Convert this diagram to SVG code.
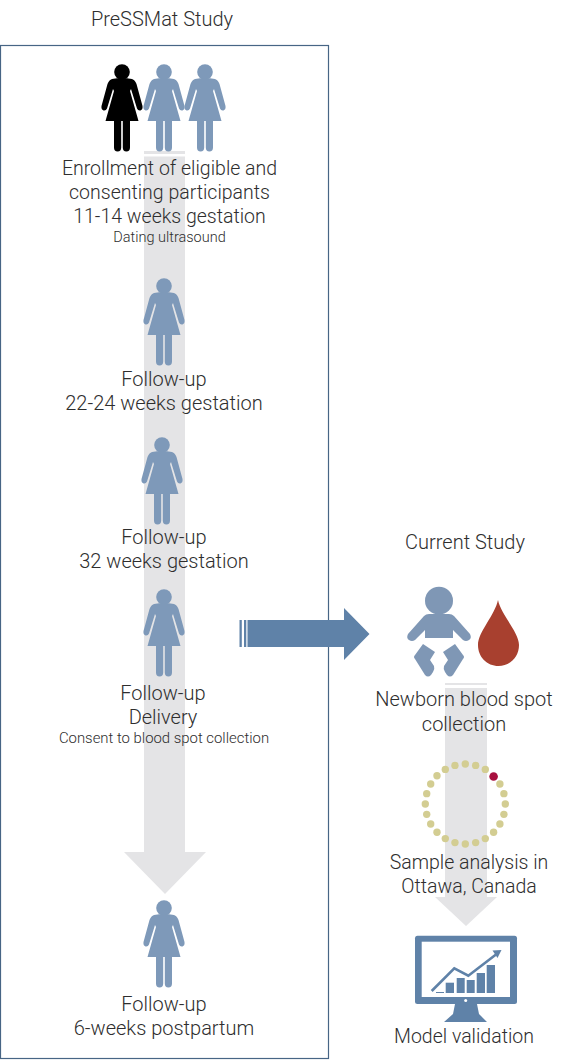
<svg xmlns="http://www.w3.org/2000/svg" width="572" height="1060" viewBox="0 0 572 1060">
<style>
.t{font-family:"Roboto","Liberation Sans",Arial,sans-serif;font-weight:300;font-size:20px;fill:#2e2e2e;text-anchor:middle}
.e{font-size:19.500px}
.s{font-size:14.500px;fill:#2e2e2e}
.c{font-size:14.900px;fill:#2e2e2e}
.p{fill:#7e99b9}
.g{fill:#e4e4e6}
.b{fill:#5f82a8}
.d{fill:#d3cd92}
</style>
<defs>
<g id="person">
<circle cx="0" cy="8" r="7.800"/>
<path d="M-10 15Q0 13 10 15Q13 16 14.500 20L20.500 42Q21 45.500 18.500 46.500Q16 47 15 44.500L9 25L8 27L16.500 57H-16.500L-8 27L-9 25L-15 44.500Q-16 47 -18.500 46.500Q-21 45.500 -20.500 42L-14.500 20Q-13 16 -10 15Z"/>
<path d="M-8 57H-0.800V83.500Q-0.800 87.500 -4.400 87.500Q-8 87.500 -8 83.500ZM0.800 57H8V83.500Q8 87.500 4.400 87.500Q0.800 87.500 0.800 83.500Z"/>
</g>
</defs>
<g id="box"><rect x="0.500" y="45.500" width="328" height="1013" fill="none" stroke="#476585" stroke-width="1.200"/></g>
<g id="connectors">
<g id="down-arrow-left" class="g">
<rect x="144" y="151" width="41" height="3"/>
<path d="M144 156.500H185V852H206L165 894L124 852H144Z"/>
</g>
<g id="down-arrow-right" class="g">
<rect x="445" y="683" width="42" height="2"/>
<path d="M445 688H487V897H497L466 926L435 897H445Z"/>
</g>
<g id="cross-arrow" class="b">
<rect x="239.500" y="620" width="2.300" height="27"/>
<rect x="244" y="620" width="2.300" height="27"/>
<path d="M247.500 620H344V608L369.500 634L344 660V647H247.500Z"/>
</g>
</g>
<g id="title-left"><text class="t" x="162" y="26">PreSSMat Study</text></g>
<g id="title-right"><text class="t" x="465" y="549">Current Study</text></g>
<g id="enrollment">
<use href="#person" x="122" y="64" fill="#000"/>
<use href="#person" x="164" y="64" class="p"/>
<use href="#person" x="205" y="64" class="p"/>
<text class="t e" x="169.500" y="175">Enrollment of eligible and</text>
<text class="t e" x="169.500" y="199">consenting participants</text>
<text class="t e" x="169.500" y="223">11-14 weeks gestation</text>
<text class="t s" x="169.500" y="242">Dating ultrasound</text>
</g>
<g id="followup-22">
<use href="#person" x="164" y="278" class="p"/>
<text class="t" x="164" y="386">Follow-up</text>
<text class="t" x="164" y="410">22-24 weeks gestation</text>
</g>
<g id="followup-32">
<use href="#person" x="162" y="437" class="p"/>
<text class="t" x="164" y="544">Follow-up</text>
<text class="t" x="164" y="568">32 weeks gestation</text>
</g>
<g id="followup-delivery">
<use href="#person" x="164" y="589" class="p"/>
<text class="t" x="163" y="700">Follow-up</text>
<text class="t" x="163" y="724">Delivery</text>
<text class="t c" x="164" y="743">Consent to blood spot collection</text>
</g>
<g id="followup-postpartum">
<use href="#person" x="164" y="900" class="p"/>
<text class="t" x="164" y="1011">Follow-up</text>
<text class="t" x="164" y="1035">6-weeks postpartum</text>
</g>
<g id="newborn">
<g fill="#7f97b5">
<circle cx="439" cy="600.700" r="14"/>
<path d="M429 614H449Q452 614 454 616L470 634Q472 638 469 640Q466 642 463 640L453 630V638H425V630L415 640Q412 642 409 640Q406 638 408 634L424 616Q426 614 429 614Z"/>
<path d="M423 644L435 652L430 660L434 666Q435 669 433 672L431 675Q428 678 425 675L415 659Q413 657 415 655Z"/>
<path d="M455 644L443 652L448 660L444 666Q443 669 445 672L447 675Q450 678 453 675L463 659Q465 657 463 655Z"/>
</g>
<path d="M498 600C501 615 519 632 519 645C519 657 510 666 498.500 666C487 666 478 657 478 645C478 632 495 615 498 600Z" fill="#a8402f"/>
<text class="t" x="464" y="706">Newborn blood spot</text>
<text class="t" x="464" y="731">collection</text>
</g>
<g id="sample-ring">
<g class="d">
<circle cx="465.300" cy="764" r="3.700"/><circle cx="475.650" cy="765.400" r="3.700"/><circle cx="485.300" cy="769.400" r="3.700"/>
<circle cx="499.900" cy="784" r="3.700"/><circle cx="503.900" cy="793.650" r="3.700"/><circle cx="505.300" cy="804" r="3.700"/>
<circle cx="503.900" cy="814.350" r="3.700"/><circle cx="499.900" cy="824" r="3.700"/><circle cx="493.600" cy="832.300" r="3.700"/>
<circle cx="485.300" cy="838.600" r="3.700"/><circle cx="475.650" cy="842.600" r="3.700"/><circle cx="465.300" cy="844" r="3.700"/>
<circle cx="454.950" cy="842.600" r="3.700"/><circle cx="445.300" cy="838.600" r="3.700"/><circle cx="437" cy="832.300" r="3.700"/>
<circle cx="430.700" cy="824" r="3.700"/><circle cx="426.700" cy="814.350" r="3.700"/><circle cx="425.300" cy="804" r="3.700"/>
<circle cx="426.700" cy="793.650" r="3.700"/><circle cx="430.700" cy="784" r="3.700"/><circle cx="437" cy="775.700" r="3.700"/>
<circle cx="445.300" cy="769.400" r="3.700"/><circle cx="454.950" cy="765.400" r="3.700"/>
</g>
<circle cx="493.600" cy="776.500" r="4.300" fill="#a8103f"/>
<text class="t e" x="469" y="869">Sample analysis in</text>
<text class="t e" x="469" y="893">Ottawa, Canada</text>
</g>
<g id="model-validation">
<rect x="415" y="935.700" width="102" height="68.300" rx="2.500" class="b"/>
<rect x="421.700" y="941.700" width="88.300" height="55.300" fill="#fff"/>
<circle cx="465.700" cy="1000.400" r="1.500" fill="#fff"/>
<path d="M455 1004H477L479 1014L487 1022H444L453 1014Z" class="b"/>
<g class="b">
<rect x="445.700" y="982.700" width="8.300" height="10.300"/>
<rect x="456.700" y="978" width="8" height="15"/>
<rect x="466.700" y="980" width="8" height="13"/>
<rect x="476.700" y="973" width="8.300" height="20"/>
<rect x="486.700" y="965" width="8.300" height="28"/>
<rect x="436" y="992" width="8" height="1"/>
<path d="M492.500 950.500L501.500 950L497.500 958Z"/>
</g>
<path d="M431.700 991L454.300 968.300L468.300 975.700L496 954.500" fill="none" stroke="#5f82a8" stroke-width="2.600"/>
<text class="t e" x="464" y="1043">Model validation</text>
</g>
</svg>
